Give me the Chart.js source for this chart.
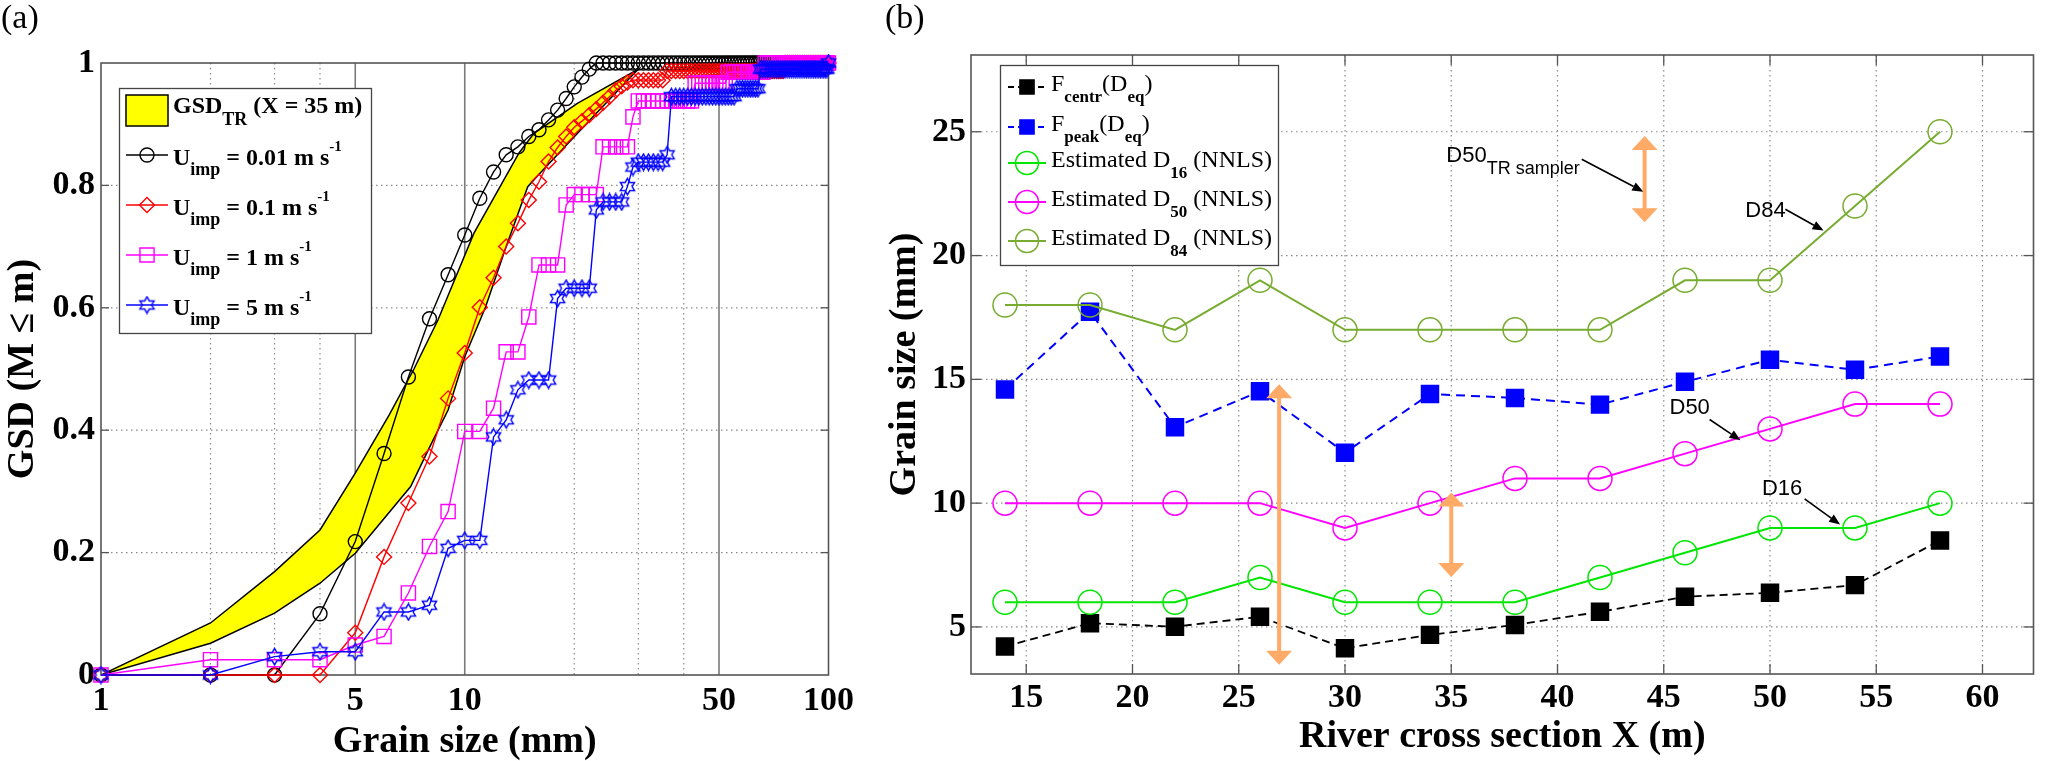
<!DOCTYPE html>
<html>
<head>
<meta charset="utf-8">
<title>GSD and grain size across the river section</title>
<script src="https://cdn.jsdelivr.net/npm/chart.js@4.4.1/dist/chart.umd.min.js"></script>
<style>
  html, body { margin: 0; padding: 0; background: #fff; }
  #page { position: relative; width: 2047px; height: 761px; overflow: hidden; }
  canvas { position: absolute; top: 0; }
  #chartA { left: 0; }
  #chartB { left: 860px; }
  .tag { position: absolute; top: 0; font: 34px "Liberation Serif", serif; line-height: 1; color: #000; }
  .warm { position: absolute; left: -9999px; top: 0; }
</style>
</head>
<body>
<div id="page">
  <canvas id="chartA" width="860" height="761"></canvas>
  <canvas id="chartB" width="1187" height="761"></canvas>
  <div class="tag" style="left:1px">(a)</div>
  <div class="tag" style="left:885px">(b)</div>
  <span class="warm" style="font:bold 20px 'Liberation Serif'">Ag</span>
  <span class="warm" style="font:20px 'Liberation Serif'">Ag</span>
  <span class="warm" style="font:20px 'Liberation Sans'">Ag</span>
</div>
<script>
/* ==== 1. DATA (a): cumulative GSD vs grain size ==== */
const GRAIN_MM = [
  1, 2, 3, 4, 5, 6, 7, 8, 9, 10,
  11, 12, 13, 14, 15, 16, 17, 18, 19, 20,
  21, 22, 23, 24, 25, 26, 27, 28, 29, 30,
  31, 32, 33, 34, 35, 36, 37, 38, 39, 40,
  41, 42, 43, 44, 45, 46, 47, 48, 49, 50,
  51, 52, 53, 54, 55, 56, 57, 58, 59, 60,
  61, 62, 63, 64, 65, 66, 67, 68, 69, 70,
  71, 72, 73, 74, 75, 76, 77, 78, 79, 80,
  81, 82, 83, 84, 85, 86, 87, 88, 89, 90,
  91, 92, 93, 94, 95, 96, 97, 98, 99, 100
];
// U_imp = 0.01 m/s
const GSD_U001 = [
  0, 0, 0, 0.10, 0.218, 0.362, 0.487, 0.582, 0.654, 0.719,
  0.779, 0.822, 0.85, 0.863, 0.88, 0.891, 0.907, 0.923, 0.942, 0.961,
  0.977, 0.99, 1, 1, 1, 1, 1, 1, 1, 1,
  1, 1, 1, 1, 1, 1, 1, 1, 1, 1,
  1, 1, 1, 1, 1, 1, 1, 1, 1, 1,
  1, 1, 1, 1, 1, 1, 1, 1, 1, 1,
  1, 1, 1, 1, 1, 1, 1, 1, 1, 1,
  1, 1, 1, 1, 1, 1, 1, 1, 1, 1,
  1, 1, 1, 1, 1, 1, 1, 1, 1, 1,
  1, 1, 1, 1, 1, 1, 1, 1, 1, 1
];
// U_imp = 0.1 m/s
const GSD_U01 = [
  0, 0, 0, 0, 0.069, 0.193, 0.281, 0.357, 0.452, 0.526,
  0.601, 0.649, 0.70, 0.738, 0.776, 0.806, 0.839, 0.862, 0.88, 0.895,
  0.905, 0.915, 0.925, 0.935, 0.945, 0.955, 0.962, 0.968, 0.972, 0.972,
  0.972, 0.972, 0.972, 0.972, 0.972, 0.987, 0.987, 0.987, 0.987, 0.987,
  0.987, 0.987, 0.987, 0.987, 0.987, 0.987, 0.987, 0.987, 0.987, 0.987,
  0.987, 0.987, 0.987, 0.987, 0.987, 0.987, 0.987, 0.987, 0.987, 0.987,
  0.987, 0.987, 0.987, 0.987, 0.987, 0.987, 0.987, 0.987, 0.987, 0.987,
  0.987, 0.987, 0.987, 0.987, 0.987, 1, 1, 1, 1, 1,
  1, 1, 1, 1, 1, 1, 1, 1, 1, 1,
  1, 1, 1, 1, 1, 1, 1, 1, 1, 1
];
// U_imp = 1 m/s
const GSD_U1 = [
  0, 0.025, 0.025, 0.025, 0.049, 0.063, 0.134, 0.21, 0.267, 0.398,
  0.398, 0.436, 0.528, 0.528, 0.585, 0.67, 0.67, 0.67, 0.768, 0.785,
  0.785, 0.785, 0.785, 0.863, 0.863, 0.863, 0.863, 0.863, 0.912, 0.938,
  0.938, 0.938, 0.938, 0.938, 0.938, 0.938, 0.938, 0.938, 0.938, 0.938,
  0.938, 0.938, 0.967, 0.967, 0.967, 0.967, 0.967, 0.967, 0.967, 0.967,
  0.967, 0.967, 0.985, 0.985, 0.985, 0.985, 0.985, 0.985, 0.985, 0.985,
  0.985, 0.985, 0.985, 0.985, 0.985, 0.985, 1, 1, 1, 1,
  1, 1, 1, 1, 1, 1, 1, 1, 1, 1,
  1, 1, 1, 1, 1, 1, 1, 1, 1, 1,
  1, 1, 1, 1, 1, 1, 1, 1, 1, 1
];
// U_imp = 5 m/s
const GSD_U5 = [
  0, 0, 0.03, 0.038, 0.038, 0.103, 0.103, 0.114, 0.207, 0.22,
  0.22, 0.389, 0.417, 0.466, 0.482, 0.482, 0.482, 0.615, 0.632, 0.632,
  0.632, 0.632, 0.76, 0.773, 0.773, 0.773, 0.773, 0.798, 0.83, 0.838,
  0.838, 0.838, 0.838, 0.838, 0.838, 0.85, 0.945, 0.945, 0.945, 0.945,
  0.945, 0.945, 0.945, 0.945, 0.945, 0.945, 0.945, 0.945, 0.945, 0.945,
  0.945, 0.945, 0.945, 0.945, 0.945, 0.958, 0.958, 0.958, 0.958, 0.958,
  0.958, 0.958, 0.958, 0.958, 0.99, 0.99, 0.99, 0.99, 0.99, 0.99,
  0.99, 0.99, 0.99, 0.99, 0.99, 0.99, 0.99, 0.99, 0.99, 0.99,
  0.99, 0.99, 0.99, 0.99, 0.99, 0.99, 0.99, 0.99, 0.99, 0.99,
  0.99, 0.99, 0.99, 0.99, 0.99, 0.99, 0.99, 0.99, 0.99, 1
];
// GSD_TR envelope (X = 35 m): upper and lower bounding curves
const BAND_UP_X = [1, 2, 3, 4, 5, 6.2, 7.25, 8.44, 10.6, 14.1, 15.5, 20.4, 30];
const BAND_UP_Y = [0, 0.085, 0.169, 0.237, 0.33, 0.425, 0.5, 0.58, 0.722, 0.853, 0.885, 0.934, 0.99];
const BAND_LO_X = [1, 2, 3, 4, 5, 7.1, 8, 9, 10, 11.4, 13, 14.9, 16.1, 23, 30];
const BAND_LO_Y = [0, 0.052, 0.101, 0.15, 0.199, 0.308, 0.372, 0.433, 0.52, 0.601, 0.70, 0.798, 0.82, 0.918, 0.99];

const X_TICKS_A = [1, 5, 10, 50, 100];
const X_MINOR_A = [2, 3, 4, 20, 30, 40];
const X_MAJOR_A = [5, 10, 50];
const Y_TICKS_A = [0, 0.2, 0.4, 0.6, 0.8, 1];
const Y_GRID_A = [0.2, 0.4, 0.6, 0.8];
const SPEEDS = ['0.01', '0.1', '1', '5'];

/* ==== 2. DATA (b): grain size along the cross section ==== */
const X_SECTION = [14, 18, 22, 26, 30, 34, 38, 42, 46, 50, 54, 58];
const F_CENTR = [4.21, 5.15, 5.01, 5.41, 4.14, 4.68, 5.08, 5.61, 6.22, 6.38, 6.69, 8.49];
const F_PEAK = [14.59, 17.73, 13.07, 14.52, 12.04, 14.41, 14.25, 13.98, 14.9, 15.79, 15.39, 15.92];
const D16_NNLS = [6, 6, 6, 7, 6, 6, 6, 7, 8, 9, 9, 10];
const D50_NNLS = [10, 10, 10, 10, 9, 10, 11, 11, 12, 13, 14, 14];
const D84_NNLS = [18, 18, 17, 19, 17, 17, 17, 17, 19, 19, 22, 25];
const X_TICKS_B = [15, 20, 25, 30, 35, 40, 45, 50, 55, 60];
const Y_TICKS_B = [5, 10, 15, 20, 25];
// D50 of the TR sampler: vertical ranges (x, top, bottom) in data units
const TR_RANGES = [[26.9, 14.8, 3.47], [35.0, 10.43, 7.02], [44.1, 24.83, 21.35]];
// text callouts: label, subscript, text x/y, arrow start x/y, arrow tip x/y (data units)
const CALLOUTS = [
  ['D50', 'TR sampler', 34.77, 23.76, 41.14, 23.89, 44.04, 22.58],
  ['D84', '', 48.84, 21.55, 50.72, 21.87, 52.52, 21.01],
  ['D50', '', 45.27, 13.61, 47.16, 13.38, 48.61, 12.54],
  ['D16', '', 49.62, 10.34, 51.63, 10.17, 53.30, 9.14]
];

/* ==== 3. HELPERS ==== */
const GRID_COLOR = '#8a8a8a', FRAME_COLOR = '#555', ORANGE = '#ffaa66';

function line(ctx, x1, y1, x2, y2, color, width, dash) {
  ctx.save();
  ctx.strokeStyle = color; ctx.lineWidth = width; ctx.setLineDash(dash || []);
  ctx.beginPath(); ctx.moveTo(x1, y1); ctx.lineTo(x2, y2); ctx.stroke();
  ctx.restore();
}
function richText(ctx, x, y, parts) {
  parts.forEach(p => {
    ctx.font = p[1];
    ctx.fillText(p[0], x, y + (p[2] || 0));
    x += ctx.measureText(p[0]).width;
  });
}
function hexagram(color) {
  const c = document.createElement('canvas'); c.width = c.height = 19;
  const g = c.getContext('2d'); g.strokeStyle = color; g.lineWidth = 1.4;
  g.beginPath();
  for (let k = 0; k < 12; k++) {
    const r = k % 2 ? 4.7 : 8.2, a = -Math.PI / 2 + k * Math.PI / 6;
    const px = 9.5 + r * Math.cos(a), py = 9.5 + r * Math.sin(a);
    k ? g.lineTo(px, py) : g.moveTo(px, py);
  }
  g.closePath(); g.stroke();
  return c;
}
function arrow(ctx, x1, y1, x2, y2) {
  const ang = Math.atan2(y2 - y1, x2 - x1), L = 11, W = 4.5;
  const bx = x2 - L * Math.cos(ang), by = y2 - L * Math.sin(ang);
  line(ctx, x1, y1, bx, by, '#000', 1.6);
  ctx.save(); ctx.fillStyle = '#000'; ctx.beginPath();
  ctx.moveTo(x2, y2);
  ctx.lineTo(bx + W * Math.sin(ang), by - W * Math.cos(ang));
  ctx.lineTo(bx - W * Math.sin(ang), by + W * Math.cos(ang));
  ctx.closePath(); ctx.fill(); ctx.restore();
}
function spanArrow(ctx, x, yTop, yBot) {
  const H = 14, W = 13;
  ctx.save();
  line(ctx, x, yTop + H - 1, x, yBot - H + 1, ORANGE, 4);
  ctx.fillStyle = ORANGE;
  ctx.beginPath(); ctx.moveTo(x, yTop); ctx.lineTo(x - W, yTop + H); ctx.lineTo(x + W, yTop + H); ctx.closePath(); ctx.fill();
  ctx.beginPath(); ctx.moveTo(x, yBot); ctx.lineTo(x - W, yBot - H); ctx.lineTo(x + W, yBot - H); ctx.closePath(); ctx.fill();
  ctx.restore();
}
function marker(ctx, style, r, color, fill, x, y, bw) {
  ctx.save();
  ctx.strokeStyle = color; ctx.fillStyle = fill; ctx.lineWidth = bw;
  Chart.helpers.drawPoint(ctx, {pointStyle: style, rotation: 0, radius: r, borderWidth: bw}, x, y);
  ctx.restore();
}
const tickFont = {family: '"Liberation Serif"', size: 34, weight: 'bold'};
const titleFont = {family: '"Liberation Serif"', size: 38, weight: 'bold', lineHeight: 1};

/* ==== 4. PANEL (a) ==== */
function drawPanelA() {
  const STAR = hexagram('#0000ff');
  const STYLE_A = [
    {color: '#000000', style: 'circle', r: 7},
    {color: '#ff0000', style: 'rectRot', r: 7.5},
    {color: '#ff00ff', style: 'rect', r: 10},
    {color: '#0000ff', style: STAR, r: 8}
  ];
  const VALUES_A = [GSD_U001, GSD_U01, GSD_U1, GSD_U5];

  const bandPts = BAND_UP_X.map((x, i) => ({x, y: BAND_UP_Y[i]}))
    .concat(BAND_LO_X.map((x, i) => ({x, y: BAND_LO_Y[i]})).reverse());

  const datasetsA = [{
    label: 'GSD_TR', data: bandPts, borderColor: '#000', borderWidth: 1.5,
    backgroundColor: '#ffff00', fill: 'shape', pointRadius: 0, tension: 0, order: 5
  }].concat(VALUES_A.map((vals, k) => ({
    label: 'U ' + SPEEDS[k],
    data: GRAIN_MM.map((x, i) => ({x, y: vals[i]})),
    borderColor: STYLE_A[k].color, borderWidth: 1.4, fill: false,
    pointStyle: STYLE_A[k].style, pointRadius: STYLE_A[k].r,
    pointBorderColor: STYLE_A[k].color, pointBackgroundColor: 'rgba(0,0,0,0)',
    pointBorderWidth: 1.4, clip: false, order: 4 - k
  })));

  const panelA = {
    id: 'panelA',
    beforeDatasetsDraw(chart) {
      const {ctx, chartArea: a, scales: {x, y}} = chart;
      Y_GRID_A.forEach(v => { const p = y.getPixelForValue(v); line(ctx, a.left, p, a.right, p, GRID_COLOR, 1.2, [1.5, 3.5]); });
      X_MINOR_A.forEach(v => { const p = x.getPixelForValue(v); line(ctx, p, a.top, p, a.bottom, GRID_COLOR, 1.2, [1.5, 3.5]); });
      X_MAJOR_A.forEach(v => { const p = x.getPixelForValue(v); line(ctx, p, a.top, p, a.bottom, '#7a7a7a', 1.6); });
      Y_GRID_A.forEach(v => {
        const p = y.getPixelForValue(v);
        line(ctx, a.left, p, a.left + 8, p, FRAME_COLOR, 1.3);
        line(ctx, a.right - 8, p, a.right, p, FRAME_COLOR, 1.3);
      });
      ctx.save(); ctx.strokeStyle = FRAME_COLOR; ctx.lineWidth = 1.6;
      ctx.strokeRect(a.left, a.top, a.right - a.left, a.bottom - a.top); ctx.restore();
    },
    afterDraw(chart) {
      const ctx = chart.ctx;
      const MAIN = 'bold 24px "Liberation Serif"', SUB = 'bold 18px "Liberation Serif"', SUP = 'bold 15px "Liberation Serif"';
      ctx.save();
      ctx.fillStyle = '#fff'; ctx.fillRect(119, 88, 252, 245);
      ctx.strokeStyle = '#444'; ctx.lineWidth = 1.3; ctx.strokeRect(119.5, 88.5, 252, 245);
      ctx.fillStyle = '#ffff00'; ctx.fillRect(126, 95, 42, 31);
      ctx.strokeStyle = '#000'; ctx.lineWidth = 1.5; ctx.strokeRect(126, 95, 42, 31);
      ctx.fillStyle = '#000'; ctx.textAlign = 'left'; ctx.textBaseline = 'alphabetic';
      richText(ctx, 173, 113, [['GSD', MAIN], ['TR', SUB, 12], [' (X = 35 m)', MAIN]]);
      SPEEDS.forEach((s, k) => {
        const ly = 155 + 50 * k, st = STYLE_A[k];
        line(ctx, 126, ly, 168, ly, st.color, 1.5);
        marker(ctx, st.style, st.r, st.color, 'rgba(0,0,0,0)', 147, ly, 1.4);
        ctx.fillStyle = '#000';
        richText(ctx, 173, ly + 10, [['U', MAIN], ['imp', SUB, 10], [' = ' + s + ' m s', MAIN], ['-1', SUP, -14]]);
      });
      ctx.restore();
    }
  };

  new Chart(document.getElementById('chartA'), {
    type: 'line',
    data: {datasets: datasetsA},
    plugins: [panelA],
    options: {
      responsive: false, animation: false, devicePixelRatio: 1, events: [],
      layout: {padding: {left: 0, top: 63, right: 22, bottom: 0}},
      plugins: {legend: {display: false}, tooltip: {enabled: false}},
      scales: {
        x: {
          type: 'logarithmic', min: 1, max: 100,
          afterBuildTicks: s => { s.ticks = X_TICKS_A.map(v => ({value: v})); },
          afterFit: s => { s.height = 86; },
          grid: {display: false, drawTicks: false}, border: {display: false},
          ticks: {autoSkip: false, maxRotation: 0, padding: 6, color: '#000', font: tickFont, callback: v => String(v)},
          title: {display: true, text: 'Grain size (mm)', color: '#000', font: titleFont, padding: {top: 0, bottom: 0}}
        },
        y: {
          type: 'linear', min: 0, max: 1,
          afterBuildTicks: s => { s.ticks = Y_TICKS_A.map(v => ({value: v})); },
          afterFit: s => { s.width = 101; },
          grid: {display: false, drawTicks: false}, border: {display: false},
          ticks: {padding: 6, color: '#000', font: tickFont, callback: v => String(v)},
          title: {display: true, text: 'GSD (M \u2264 m)', color: '#000', font: titleFont, padding: {top: 4, bottom: 0}}
        }
      }
    }
  });
}

/* ==== 5. PANEL (b) ==== */
function drawPanelB() {
  const STYLE_B = [
    {color: '#000000', style: 'rect', r: 12, fill: '#000000', dash: [8, 5], width: 1.8},
    {color: '#0000ff', style: 'rect', r: 12, fill: '#0000ff', dash: [9, 6], width: 2},
    {color: '#00e600', style: 'circle', r: 12, fill: 'rgba(0,0,0,0)', dash: [], width: 2},
    {color: '#ff00ff', style: 'circle', r: 12, fill: 'rgba(0,0,0,0)', dash: [], width: 2},
    {color: '#77ac30', style: 'circle', r: 12, fill: 'rgba(0,0,0,0)', dash: [], width: 2}
  ];
  const VALUES_B = [F_CENTR, F_PEAK, D16_NNLS, D50_NNLS, D84_NNLS];
  const LEGEND_B = [
    [['F', 0], ['centr', 1], ['(D', 0], ['eq', 1], [')', 0]],
    [['F', 0], ['peak', 1], ['(D', 0], ['eq', 1], [')', 0]],
    [['Estimated D', 0], ['16', 1], [' (NNLS)', 0]],
    [['Estimated D', 0], ['50', 1], [' (NNLS)', 0]],
    [['Estimated D', 0], ['84', 1], [' (NNLS)', 0]]
  ];

  const datasetsB = VALUES_B.map((vals, k) => ({
    data: X_SECTION.map((x, i) => ({x, y: vals[i]})),
    borderColor: STYLE_B[k].color, borderWidth: STYLE_B[k].width, borderDash: STYLE_B[k].dash, fill: false,
    pointStyle: STYLE_B[k].style, pointRadius: STYLE_B[k].r,
    pointBorderColor: STYLE_B[k].color, pointBackgroundColor: STYLE_B[k].fill,
    pointBorderWidth: 1.5, clip: false, order: 5 - k
  }));

  const panelB = {
    id: 'panelB',
    beforeDatasetsDraw(chart) {
      const {ctx, chartArea: a, scales: {x, y}} = chart;
      X_TICKS_B.forEach(v => {
        const p = x.getPixelForValue(v);
        line(ctx, p, a.top, p, a.bottom, GRID_COLOR, 1.2, [1.5, 3.5]);
        line(ctx, p, a.bottom, p, a.bottom - 10, FRAME_COLOR, 1.3);
        line(ctx, p, a.top, p, a.top + 10, FRAME_COLOR, 1.3);
      });
      Y_TICKS_B.forEach(v => {
        const p = y.getPixelForValue(v);
        line(ctx, a.left, p, a.right, p, GRID_COLOR, 1.2, [1.5, 3.5]);
        line(ctx, a.left, p, a.left + 10, p, FRAME_COLOR, 1.3);
        line(ctx, a.right - 10, p, a.right, p, FRAME_COLOR, 1.3);
      });
      ctx.save(); ctx.strokeStyle = FRAME_COLOR; ctx.lineWidth = 1.6;
      ctx.strokeRect(a.left, a.top, a.right - a.left, a.bottom - a.top); ctx.restore();
    },
    afterDatasetsDraw(chart) {
      const {ctx, scales: {x, y}} = chart;
      TR_RANGES.forEach(r => spanArrow(ctx, x.getPixelForValue(r[0]), y.getPixelForValue(r[1]), y.getPixelForValue(r[2])));
      ctx.save(); ctx.fillStyle = '#000'; ctx.textAlign = 'left'; ctx.textBaseline = 'alphabetic';
      CALLOUTS.forEach(c => {
        const parts = [[c[0], '22px "Liberation Sans"']];
        if (c[1]) parts.push([c[1], '18px "Liberation Sans"', 12]);
        richText(ctx, x.getPixelForValue(c[2]), y.getPixelForValue(c[3]), parts);
        arrow(ctx, x.getPixelForValue(c[4]), y.getPixelForValue(c[5]), x.getPixelForValue(c[6]), y.getPixelForValue(c[7]));
      });
      ctx.restore();
    },
    afterDraw(chart) {
      const ctx = chart.ctx;
      const FONTS = ['24px "Liberation Serif"', 'bold 17px "Liberation Serif"'];
      ctx.save();
      ctx.fillStyle = '#fff'; ctx.fillRect(140, 65, 278, 200);
      ctx.strokeStyle = '#444'; ctx.lineWidth = 1.3; ctx.strokeRect(140.5, 65.5, 278, 200);
      [87, 127, 163, 202, 241].forEach((ly, k) => {
        const st = STYLE_B[k];
        line(ctx, 148, ly, 186, ly, st.color, st.width, st.dash.length ? [6, 4] : []);
        marker(ctx, st.style, k < 2 ? 10 : 11.5, st.color, st.fill, 167, ly, 1.5);
        ctx.fillStyle = '#000'; ctx.textAlign = 'left'; ctx.textBaseline = 'alphabetic';
        richText(ctx, 191, ly + 4, LEGEND_B[k].map(p => [p[0], FONTS[p[1]], p[1] ? 11 : 0]));
      });
      ctx.restore();
    }
  };

  new Chart(document.getElementById('chartB'), {
    type: 'line',
    data: {datasets: datasetsB},
    plugins: [panelB],
    options: {
      responsive: false, animation: false, devicePixelRatio: 1, events: [],
      layout: {padding: {left: 0, top: 55, right: 11, bottom: 0}},
      plugins: {legend: {display: false}, tooltip: {enabled: false}},
      scales: {
        x: {
          type: 'linear', min: 12.4, max: 62.4,
          afterBuildTicks: s => { s.ticks = X_TICKS_B.map(v => ({value: v})); },
          afterFit: s => { s.height = 87; },
          grid: {display: false, drawTicks: false}, border: {display: false},
          ticks: {autoSkip: false, maxRotation: 0, padding: 4, color: '#000', font: tickFont, callback: v => String(v)},
          title: {display: true, text: 'River cross section X (m)', color: '#000', font: titleFont, padding: {top: 0, bottom: 5}}
        },
        y: {
          type: 'linear', min: 3.1, max: 28.1,
          afterBuildTicks: s => { s.ticks = Y_TICKS_B.map(v => ({value: v})); },
          afterFit: s => { s.width = 111; },
          grid: {display: false, drawTicks: false}, border: {display: false},
          ticks: {padding: 5, color: '#000', font: tickFont, callback: v => String(v)},
          title: {display: true, text: 'Grain size (mm)', color: '#000', font: titleFont, padding: {top: 26, bottom: 0}}
        }
      }
    }
  });
}

/* ==== 6. START once the local fonts are ready ==== */
const FONT_LIST = ['bold 34px "Liberation Serif"', '24px "Liberation Serif"', '22px "Liberation Sans"'];
Promise.all(FONT_LIST.map(f => document.fonts.load(f)))
  .catch(() => null)
  .then(() => { drawPanelA(); drawPanelB(); });
</script>
</body>
</html>
